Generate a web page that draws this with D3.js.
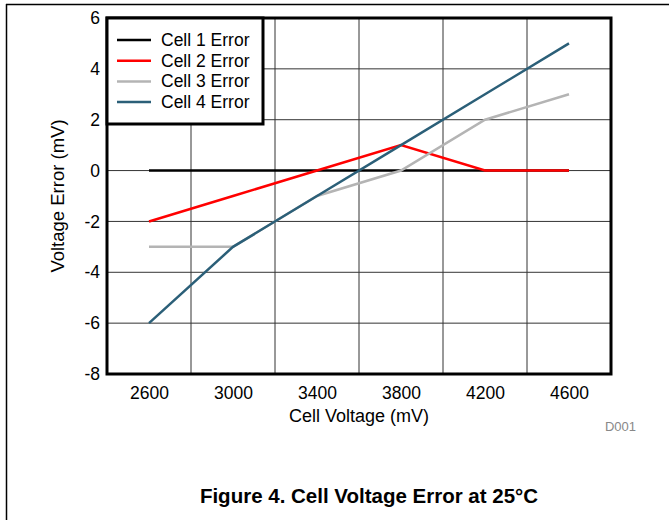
<!DOCTYPE html>
<html>
<head>
<meta charset="utf-8">
<script src="https://cdn.jsdelivr.net/npm/d3@7"></script>
<style>
  body { margin: 0; background: #fff; }
  svg { font-family: "Liberation Sans", Arial, sans-serif; }
</style>
</head>
<body>
<svg width="669" height="520"></svg>
<script>
// data
var voltages = [2600, 3000, 3400, 3800, 4200, 4600];
var cell1 = [0, 0, 0, 0, 0, 0];
var cell2 = [-2, -1, 0, 1, 0, 0];
var cell3 = [-3, -3, -1, 0, 2, 3];
var cell4 = [-6, -3, -1, 1, 3, 5];
var seriesNames = ["Cell 1 Error", "Cell 2 Error", "Cell 3 Error", "Cell 4 Error"];
var seriesColors = ["#000000", "#ff0000", "#b4b4b4", "#2b5f78"];
var xTicks = [2600, 3000, 3400, 3800, 4200, 4600];
var xGrid = [2800, 3200, 3600, 4000, 4400];
var yTicks = [-8, -6, -4, -2, 0, 2, 4, 6];

var svg = d3.select("svg");
var pLeft = 107, pRight = 611, pTop = 18, pBottom = 374;

var x = d3.scaleLinear().domain([2400, 4800]).range([pLeft, pRight]);
var y = d3.scaleLinear().domain([-8, 6]).range([pBottom, pTop]);

// outer frame
svg.append("line").attr("x1", 6).attr("x2", 669).attr("y1", 4.5).attr("y2", 4.5)
  .attr("stroke", "#000").attr("stroke-width", 1.5);
svg.append("line").attr("x1", 6.5).attr("x2", 6.5).attr("y1", 4).attr("y2", 520)
  .attr("stroke", "#000").attr("stroke-width", 1.5);

var g = svg.append("g");

// grid
g.selectAll(".vg").data(xGrid).enter().append("line")
  .attr("x1", d => x(d)).attr("x2", d => x(d))
  .attr("y1", pTop).attr("y2", pBottom)
  .attr("stroke", "#333").attr("stroke-width", 1);
g.selectAll(".hg").data(yTicks.slice(1, -1)).enter().append("line")
  .attr("x1", pLeft).attr("x2", pRight)
  .attr("y1", d => y(d)).attr("y2", d => y(d))
  .attr("stroke", "#333").attr("stroke-width", 1);

// axes (labels only)
var xAxis = g.append("g").attr("transform", "translate(0," + pBottom + ")")
  .call(d3.axisBottom(x).tickValues(xTicks).tickFormat(d => String(d)).tickSize(0).tickPadding(13));
var yAxis = g.append("g").attr("transform", "translate(" + pLeft + ",0)")
  .call(d3.axisLeft(y).tickValues(yTicks).tickFormat(d => String(d)).tickSize(0).tickPadding(7));
[xAxis, yAxis].forEach(function(a) {
  a.select(".domain").remove();
  a.selectAll("text").attr("font-size", 17.5).attr("fill", "#000")
    .attr("font-family", "Liberation Sans, Arial, sans-serif");
});

// lines
var line = d3.line().x((d, i) => x(voltages[i])).y(d => y(d));
[cell1, cell2, cell3, cell4].forEach(function(s, i) {
  g.append("path").attr("d", line(s))
    .attr("fill", "none").attr("stroke", seriesColors[i])
    .attr("stroke-width", 2.5);
});

// plot border
g.append("rect").attr("x", pLeft).attr("y", pTop)
  .attr("width", pRight - pLeft).attr("height", pBottom - pTop)
  .attr("fill", "none").attr("stroke", "#000").attr("stroke-width", 3);

// legend
var lg = g.append("g");
lg.append("rect").attr("x", pLeft).attr("y", pTop).attr("width", 156).attr("height", 106)
  .attr("fill", "#fff").attr("stroke", "#000").attr("stroke-width", 3);
seriesNames.forEach(function(n, i) {
  var ly = 40 + i * 20.7;
  lg.append("line").attr("x1", 117).attr("x2", 151).attr("y1", ly).attr("y2", ly)
    .attr("stroke", seriesColors[i]).attr("stroke-width", 2.5);
  lg.append("text").attr("x", 161).attr("y", ly + 6).attr("font-size", 17.5).text(n);
});

// axis titles
svg.append("text").attr("x", (pLeft + pRight) / 2).attr("y", 422)
  .attr("text-anchor", "middle").attr("font-size", 18).text("Cell Voltage (mV)");
svg.append("text").attr("transform", "translate(64," + (pTop + pBottom) / 2 + ") rotate(-90)")
  .attr("text-anchor", "middle").attr("font-size", 18.5).text("Voltage Error (mV)");

svg.append("text").attr("x", 636).attr("y", 431).attr("text-anchor", "end")
  .attr("font-size", 13).attr("fill", "#888").text("D001");

svg.append("text").attr("x", 369).attr("y", 503).attr("text-anchor", "middle")
  .attr("font-size", 20.5).attr("font-weight", "bold").text("Figure 4. Cell Voltage Error at 25°C");
</script>
</body>
</html>
